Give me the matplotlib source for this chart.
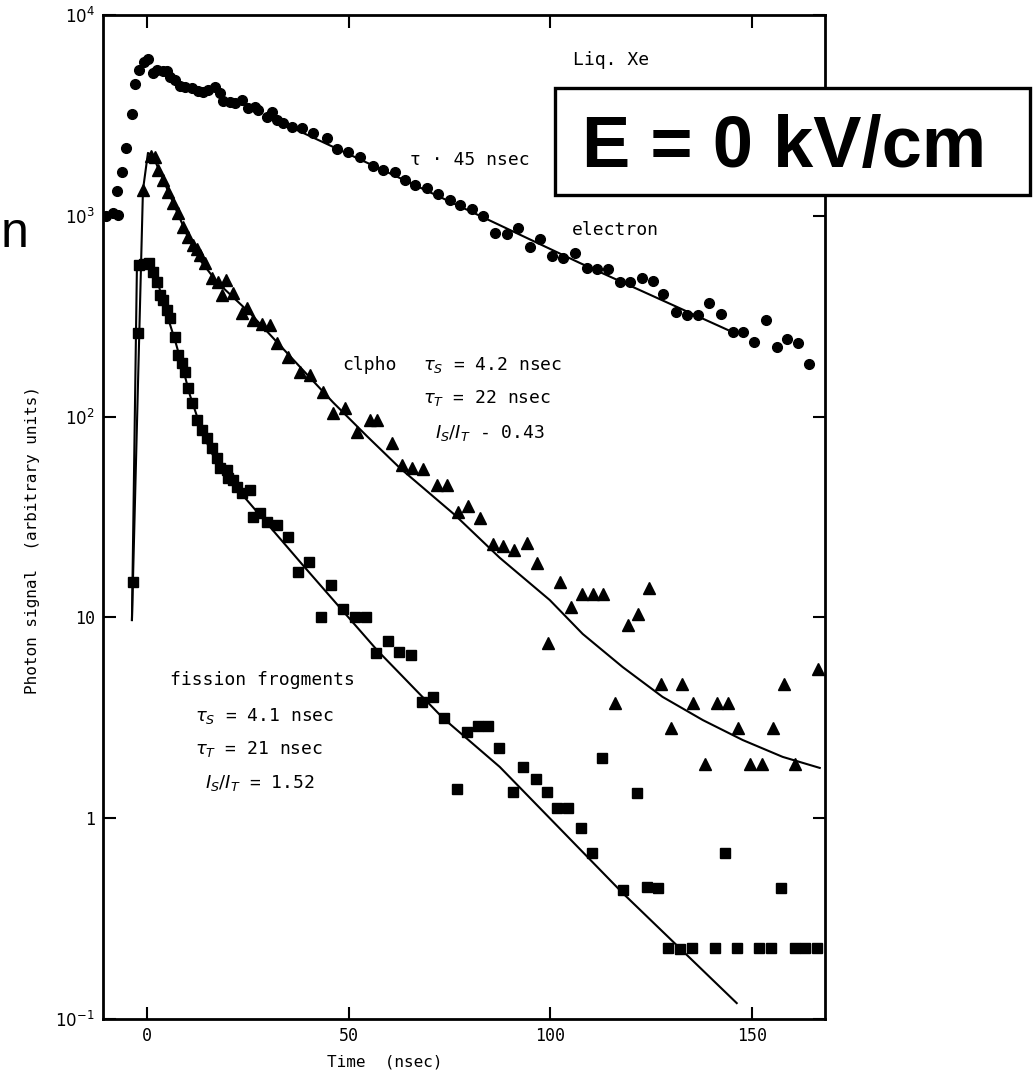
import matplotlib
matplotlib.use("Agg")
import matplotlib.pyplot as plt
from matplotlib.patches import Rectangle
from matplotlib.ticker import FixedLocator, NullLocator

# ---------------- data ----------------
electron_t = [-10.2, -8.4, -7.2, -7.4, -6.2, -5.2, -3.7, -3.0, -2.0, -0.7, 0.2, 1.5, 2.5, 4.0,
              5.0, 5.7, 6.9, 8.2, 9.4, 11.2, 12.7, 13.9, 15.1, 16.9, 18.1, 18.9, 20.6, 21.8,
              23.6, 25.1, 26.8, 27.5, 29.8, 31.0, 32.3, 33.7, 36.0, 38.5, 41.2, 44.7, 47.1,
              49.9, 52.9, 56.1, 58.6, 61.5, 64.0, 66.5, 69.5, 72.2, 75.2, 77.7, 80.6, 83.4,
              86.4, 89.3, 92.1, 95.0, 97.5, 100.5, 103.2, 106.2, 109.2, 111.7, 114.4, 117.4,
              119.9, 122.8, 125.6, 128.0, 131.3, 134.0, 136.7, 139.5, 142.4, 145.4, 147.9,
              150.6, 153.6, 156.3, 158.8, 161.5, 164.3]
electron_y = [1000, 1030, 1010, 1330, 1650, 2180, 3210, 4530, 5320, 5840, 6040, 5140, 5320, 5260,
              5260, 4910, 4740, 4430, 4380, 4320, 4180, 4140, 4240, 4380, 4090, 3730, 3690, 3650,
              3780, 3440, 3480, 3370, 3100, 3290, 3000, 2900, 2770, 2730, 2580, 2440, 2150,
              2080, 1960, 1770, 1690, 1650, 1510, 1420, 1370, 1280, 1200, 1130, 1080, 1000,
              820, 810, 870, 700, 766, 631, 617, 653, 550, 543, 543, 468,
              468, 490, 473, 408, 332, 321, 321, 368, 324, 264, 264,
              235, 303, 222, 243, 233, 183]

alpha_t = [-1.0, 1.0, 2.0, 2.7, 4.0, 5.2, 6.5, 7.6, 8.9, 10.2, 11.4, 12.3, 13.2, 14.4, 16.1,
           17.6, 19.6, 18.6, 21.3, 23.6, 24.8, 26.3, 28.5, 30.5, 32.3, 35.0, 38.0, 40.4,
           43.7, 46.2, 49.1, 52.1, 55.3, 57.1, 60.8, 63.3, 65.8, 68.5, 72.0, 74.4, 77.2,
           79.7, 82.6, 85.9, 88.3, 91.1, 94.3, 96.8, 99.5, 102.5, 105.2, 107.9, 110.7,
           113.2, 116.1, 119.4, 121.8, 124.6, 127.5, 130.0, 132.8, 135.5, 138.5, 141.4,
           144.2, 146.7, 149.6, 152.6, 155.3, 158.1, 160.8, 166.5]
alpha_y = [1340, 1990, 1960, 1690, 1510, 1310, 1160, 1030, 880, 783, 716, 680, 638, 582, 490,
           468, 478, 403, 413, 328, 347, 303, 289, 286, 233, 198, 167, 161,
           133, 104, 110, 83.8, 96.1, 96.1, 74, 57.5, 55.5, 54.9, 45.6, 45.6, 33.5,
           35.9, 31.3, 23.2, 22.7, 21.7, 23.5, 18.7, 7.46, 15.0, 11.3, 13.1, 13.1,
           13.1, 3.75, 9.17, 10.4, 14.0, 4.66, 2.81, 4.66, 3.75, 1.86, 3.75,
           3.75, 2.81, 1.86, 1.86, 2.81, 4.66, 1.86, 5.53]

fission_t = [-3.5, -2.2, -2.0, -0.7, 0.5, 1.5, 2.5, 3.2, 4.0, 5.0, 5.7, 6.9, 7.7, 8.7, 9.4,
             10.2, 11.2, 12.4, 13.6, 14.9, 16.1, 17.4, 18.1, 19.9, 20.1, 21.3, 22.3, 23.6,
             25.6, 26.3, 28.0, 29.8, 32.3, 35.0, 37.5, 40.2, 43.2, 45.7, 48.6, 51.6, 54.3,
             56.8, 59.8, 62.5, 65.5, 68.2, 71.0, 73.7, 76.9, 79.4, 82.1, 84.6, 87.3, 90.8,
             93.3, 96.5, 99.3, 101.7, 104.5, 107.7, 110.4, 112.9, 118.1, 121.6, 124.1,
             126.8, 129.3, 132.3, 135.2, 140.9, 143.4, 146.4, 151.9, 154.8, 157.3, 160.8,
             163.3, 166.3]
fission_y = [15, 261, 569, 575, 580, 525, 468, 403, 381, 340, 310, 249, 203, 185, 167,
             139, 117, 96.1, 85.7, 78.2, 69.8, 62.2, 55.5, 54.2, 49.4, 48.3, 44.6, 41.6,
             43.0, 31.6, 33.1, 29.9, 28.8, 25.1, 16.8, 18.9, 10.0, 14.5, 11.0, 10.0, 10.0,
             6.65, 7.63, 6.72, 6.50, 3.79, 4.02, 3.15, 1.40, 2.69, 2.88, 2.88, 2.24, 1.35,
             1.80, 1.57, 1.35, 1.12, 1.12, 0.893, 0.671, 2.00, 0.439, 1.33, 0.454,
             0.449, 0.226, 0.223, 0.226, 0.226, 0.671, 0.226, 0.226, 0.226, 0.449, 0.226,
             0.226, 0.226]

# fitted curves
electron_fit_t = [30.5, 62.2, 107.4, 144.1]
electron_fit_y = [3090, 1560, 582, 270]

alpha_fit_t = [-3.72, -0.99, 0.25, 1.49, 3.22, 6.20, 10.17, 13.14, 17.36, 21.32, 25.54, 31.74,
               37.94, 46.12, 54.55, 62.73, 76.37, 87.53, 99.93, 108.1, 118.0, 127.9, 137.9,
               147.8, 157.7, 166.9]
alpha_fit_y = [9.7, 1343, 2056, 1986, 1652, 1199, 784, 603, 468, 394, 328, 241,
               177, 118, 80, 55.5, 32.4, 19.8, 12.2, 8.27, 5.66, 4.02, 3.08,
               2.45, 2.02, 1.78]

fission_fit_t = [-3.72, -2.48, 0.25, 1.98, 3.22, 5.21, 6.94, 8.68, 10.66, 13.14, 15.62, 19.34,
                 24.80, 38.68, 57.03, 73.39, 87.53, 118.0, 146.3]
fission_fit_y = [9.7, 569, 596, 537, 427, 310, 241, 181, 128, 90.8, 68.2, 51.2,
                 38.4, 18.2, 6.89, 3.16, 1.80, 0.424, 0.120]

x_ticks = [0, 50, 100, 150]
x_tick_labels = ["0", "50", "100", "150"]
y_ticks = [0.1, 1, 10, 100, 1000, 10000]
y_tick_labels = ["$10^{-1}$", "1", "10", "$10^{2}$", "$10^{3}$", "$10^{4}$"]

# ---------------- figure ----------------
W, H = 1035, 1082
fig = plt.figure(figsize=(W / 100, H / 100), dpi=100)
mono = "DejaVu Sans Mono"
plt.rcParams["mathtext.fontset"] = "dejavusans"

ax = fig.add_axes([103 / W, 1 - 1019 / H, (825 - 103) / W, (1019 - 15) / H])
ax.set_yscale("log")
ax.set_xlim(-10.9, 168.2)
ax.set_ylim(0.1, 1e4)

ax.plot(electron_fit_t, electron_fit_y, color="black", lw=1.5, zorder=2)
ax.plot(alpha_fit_t, alpha_fit_y, color="black", lw=1.5, zorder=2)
ax.plot(fission_fit_t, fission_fit_y, color="black", lw=1.5, zorder=2)

ax.plot(electron_t, electron_y, "o", color="black", ms=7, zorder=3)
ax.plot(alpha_t, alpha_y, "^", color="black", ms=8, zorder=3)
ax.plot(fission_t, fission_y, "s", color="black", ms=6.5, zorder=3)

ax.xaxis.set_major_locator(FixedLocator(x_ticks))
ax.set_xticklabels(x_tick_labels, fontfamily=mono, fontsize=12)
ax.yaxis.set_major_locator(FixedLocator(y_ticks))
ax.yaxis.set_minor_locator(NullLocator())
ax.set_yticklabels(y_tick_labels, fontfamily=mono, fontsize=12)
ax.tick_params(which="major", direction="in", top=True, right=True,
               length=9, width=1.5, pad=6)
for sp in ax.spines.values():
    sp.set_linewidth(2.0)


def ftext(px, py, s, **kw):
    kw.setdefault("ha", "left")
    kw.setdefault("va", "center")
    kw.setdefault("fontfamily", mono)
    kw.setdefault("fontsize", 13)
    return fig.text(px / W, 1 - py / H, s, **kw)


ftext(385, 1062, "Time  (nsec)", ha="center", fontsize=11.5)
ftext(33, 540, "Photon signal  (arbitrary units)", ha="center", rotation=90, fontsize=11.5)

ftext(573, 60, "Liq. Xe")
ftext(410, 160, "τ · 45 nsec")
ftext(572, 230, "electron")

ftext(342, 365, "clpho")
ftext(423, 365, r"$\tau_S$ = 4.2 nsec")
ftext(423, 398, r"$\tau_T$ = 22 nsec")
ftext(435, 433, r"$I_S/I_T$ - 0.43")

ftext(170, 680, "fission frogments")
ftext(195, 716, r"$\tau_S$ = 4.1 nsec")
ftext(195, 749, r"$\tau_T$ = 21 nsec")
ftext(205, 783, r"$I_S/I_T$ = 1.52")

# overlay box
fig.add_artist(Rectangle((555 / W, 1 - 195 / H), 475 / W, 107 / H,
                         transform=fig.transFigure, facecolor="white",
                         edgecolor="black", lw=2.4, zorder=10))
fig.text(784 / W, 1 - 167 / H, "E = 0 kV/cm", ha="center", va="baseline",
         fontfamily="Liberation Sans", fontweight="bold", fontsize=52, zorder=11)

# partial word at the left edge (kept fully inside the canvas)
fig.text(1 / W, 1 - 247 / H, "n", ha="left", va="baseline",
         fontfamily="Liberation Sans", fontsize=36)

fig.savefig("out.png", dpi=100)
